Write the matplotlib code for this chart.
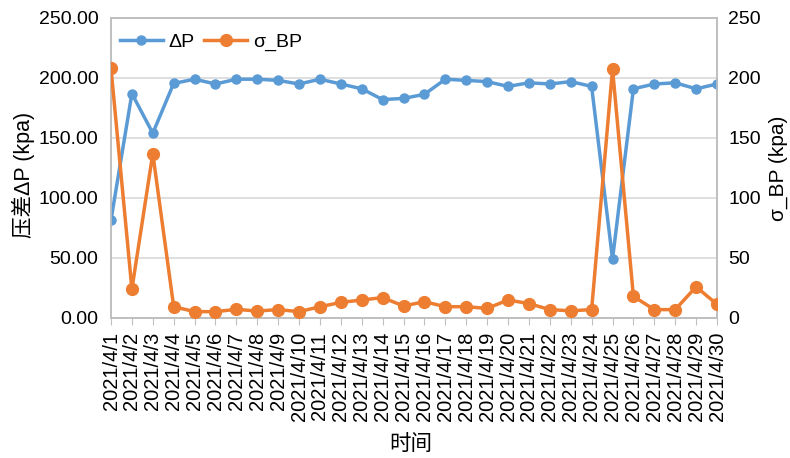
import matplotlib
matplotlib.use("Agg")
import matplotlib.pyplot as plt
from matplotlib.ticker import FormatStrFormatter

plt.rcParams['font.family'] = ['Liberation Sans', 'Noto Sans CJK SC', 'DejaVu Sans']

dates = [f"2021/4/{d}" for d in range(1, 31)]
delta_p = [81.7, 187, 154, 195.5, 199, 195, 199, 199, 198, 195,
           199, 195, 191, 182, 183, 186.4, 199, 198, 197, 193,
           196, 195, 197, 193, 49, 191, 195, 196, 191, 195]
sigma_bp = [208, 24, 137, 9.4, 5.3, 5.3, 7.2, 5.8, 7, 5.3,
            9.4, 13, 15, 17, 10, 13.6, 9.4, 9.4, 8, 15,
            12, 7, 6, 7, 207.5, 18, 7, 7, 26, 11.4]

blue = '#5B9BD5'
orange = '#ED7D31'
grid_c = '#D9D9D9'
spine_c = '#BFBFBF'

W, H = 790, 458
fig = plt.figure(figsize=(W/100, H/100), dpi=100)
ax = fig.add_axes([111/W, 1-318/H, (717-111)/W, 300/H])
ax2 = ax.twinx()

x = list(range(len(dates)))
l1, = ax.plot(x, delta_p, color=blue, lw=2.5, marker='o', ms=6.5, label='ΔP', zorder=3)
l2, = ax2.plot(x, sigma_bp, color=orange, lw=2.5, marker='o', ms=8.5, label='σ_BP', zorder=3)

ax.set_xlim(0, len(dates)-1)
ax.set_ylim(0, 250)
ax2.set_ylim(0, 250)
ax.set_yticks(range(0, 251, 50))
ax2.set_yticks(range(0, 251, 50))
ax.yaxis.set_major_formatter(FormatStrFormatter('%.2f'))
ax.set_xticks(x)
ax.set_xticklabels(dates, rotation=90, fontsize=14.5)
ax.tick_params(axis='y', length=0, labelsize=14, pad=9)
ax2.tick_params(axis='y', length=0, labelsize=14, pad=8)
ax.tick_params(axis='x', length=5, color=spine_c, pad=5)
ax.grid(axis='y', color=grid_c, lw=1.2)
ax.set_axisbelow(True)
for a in (ax, ax2):
    for s in a.spines.values():
        s.set_color(spine_c)
        s.set_linewidth(1.2)

fig.text(23/W, 1-175/H, '压差ΔP (kpa)', rotation=90, fontsize=15.5,
         ha='center', va='center')
fig.text(778/W, 1-168/H, 'σ_BP (kpa)', rotation=90, fontsize=15,
         ha='center', va='center')
fig.text(411/W, 1-444/H, '时间', fontsize=15.5, ha='center', va='center')

leg = ax.legend(handles=[l1, l2], loc='upper left', bbox_to_anchor=(-0.008, 0.995), ncol=2,
                frameon=False, fontsize=14, handlelength=2.2, columnspacing=0.5,
                handletextpad=0.3, borderaxespad=0.3)

fig.savefig('out.png', dpi=100)
